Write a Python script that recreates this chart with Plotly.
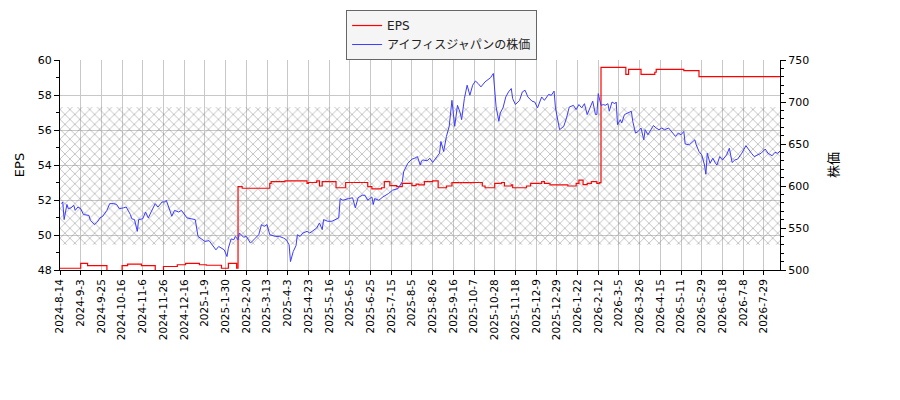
import plotly.graph_objects as go

# x axis = trading-day index, labelled every 15 days
tick_labels = [
    "2024-8-14", "2024-9-3", "2024-9-25", "2024-10-16", "2024-11-6", "2024-11-26",
    "2024-12-16", "2025-1-9", "2025-1-30", "2025-2-20", "2025-3-13", "2025-4-3",
    "2025-4-23", "2025-5-16", "2025-6-5", "2025-6-25", "2025-7-15", "2025-8-5",
    "2025-8-26", "2025-9-16", "2025-10-7", "2025-10-28", "2025-11-18", "2025-12-9",
    "2025-12-29", "2026-1-22", "2026-2-12", "2026-3-5", "2026-3-26", "2026-4-15",
    "2026-5-11", "2026-5-29", "2026-6-18", "2026-7-8", "2026-7-29",
]

# EPS, step changes (day index -> value)
eps_days = [0, 15, 20, 34, 45, 49, 59, 69, 75, 85, 91, 101, 106, 117, 122, 128,
            129, 132, 152, 153, 163, 179, 180, 186, 188, 190, 200, 207, 223, 226,
            233, 235, 239, 244, 248, 255, 258, 260, 264, 270, 274, 280, 284, 300,
            306, 308, 315, 320, 322, 327, 328, 338, 341, 349, 351, 355, 368, 374,
            376, 379, 382, 385, 389, 391, 392, 405, 410, 412, 420, 421, 426, 431,
            432, 452, 463, 522]
eps_values = [48.10, 48.38, 48.25, 47.80, 48.25, 48.34, 48.25, 47.80, 48.20, 48.30,
              48.38, 48.30, 48.27, 48.10, 48.38, 48.10, 52.76, 52.67, 52.95, 53.05,
              53.09, 52.95, 53.00, 53.09, 52.80, 53.05, 52.70, 53.00, 52.76, 52.63,
              52.70, 53.05, 52.82, 52.76, 52.95, 52.82, 52.91, 52.86, 53.05, 53.09,
              52.70, 52.80, 52.99, 53.00, 52.80, 52.70, 52.95, 53.00, 52.80, 52.86,
              52.70, 52.80, 52.95, 53.05, 52.95, 52.86, 52.80, 52.95, 53.14, 52.88,
              52.95, 53.05, 52.95, 52.99, 59.58, 59.58, 59.18, 59.47, 59.47, 59.18,
              59.18, 59.30, 59.47, 59.39, 59.05, 59.05]

# share price (day index -> yen)
price_days = [
    1, 2, 3, 5, 6, 8, 10, 11, 13, 15, 17, 21, 22, 25, 27, 29, 31, 34, 36, 39,
    41, 43, 46, 48, 51, 52, 54, 56, 57, 60, 62, 64, 66, 69, 71, 74, 76, 77, 80, 81,
    83, 86, 88, 90, 92, 95, 98, 100, 103, 105, 108, 110, 113, 115, 117, 119, 121, 122, 124, 126,
    127, 129, 130, 133, 135, 138, 141, 144, 146, 148, 150, 152, 156, 159, 162, 164, 166, 167, 169, 171,
    172, 174, 176, 179, 181, 184, 186, 188, 190, 191, 194, 197, 199, 202, 203, 205, 209, 212, 214, 216,
    219, 221, 223, 226, 227, 228, 231, 234, 238, 241, 245, 248, 249, 252, 255, 257, 259, 261, 262, 263,
    266, 268, 270, 273, 275, 276, 278, 280, 282, 284, 285, 286, 288, 290, 291, 293, 295, 296, 297, 299,
    301, 303, 305, 308, 310, 312, 314, 315, 316, 318, 319, 321, 323, 325, 327, 328, 330, 333, 335, 337,
    339, 342, 344, 346, 349, 351, 354, 356, 358, 359, 361, 362, 365, 367, 369, 372, 374, 376, 378, 380,
    382, 384, 386, 388, 389, 390, 392, 394, 395, 397, 398, 400, 402, 403, 404, 406, 407, 409, 412, 414,
    415, 417, 419, 421, 423, 424, 426, 428, 430, 432, 434, 436, 438, 441, 443, 446, 448, 450, 452, 453,
    456, 458, 460, 461, 463, 465, 467, 468, 469, 471, 473, 475, 476, 478, 480, 483, 485, 487, 489, 491,
    494, 497, 499, 501, 503, 506, 508, 511, 513, 516, 518, 520, 522,
]
price_values = [
    579, 581, 560, 578, 573, 574, 577, 571, 575, 573, 566, 565, 559, 554, 557, 562, 564, 571, 579, 579,
    578, 573, 574, 575, 566, 561, 560, 546, 560, 561, 569, 562, 569, 579, 575, 581, 581, 583, 569, 564,
    571, 569, 571, 566, 562, 561, 560, 540, 536, 534, 535, 531, 524, 528, 526, 524, 516, 526, 537, 536,
    540, 536, 544, 539, 540, 532, 537, 542, 554, 552, 554, 542, 540, 540, 538, 536, 530, 510, 522, 529,
    542, 540, 544, 546, 544, 548, 550, 556, 548, 560, 558, 558, 560, 562, 585, 583, 585, 586, 574, 586,
    589, 589, 583, 587, 578, 585, 583, 587, 591, 595, 597, 605, 617, 627, 632, 633, 635, 625, 630, 631,
    630, 633, 628, 635, 639, 653, 641, 659, 671, 702, 685, 671, 696, 687, 679, 704, 720, 712, 708, 720,
    725, 722, 718, 724, 726, 729, 734, 712, 694, 677, 687, 693, 706, 712, 716, 704, 697, 702, 712, 714,
    706, 701, 700, 693, 706, 702, 709, 708, 713, 693, 673, 667, 671, 681, 694, 696, 691, 697, 693, 698,
    685, 694, 701, 685, 685, 710, 696, 697, 696, 698, 689, 700, 698, 700, 673, 679, 675, 685, 687, 689,
    677, 663, 665, 669, 655, 667, 661, 667, 672, 669, 667, 669, 667, 669, 665, 659, 663, 661, 665, 650,
    649, 652, 655, 649, 641, 637, 625, 614, 639, 627, 633, 627, 625, 635, 631, 637, 645, 628, 631, 632,
    639, 648, 643, 639, 635, 638, 639, 644, 639, 636, 640, 639, 642,
]

# hatched price band
band_days = [0, 522]
band_low = 530
band_high = 694

fig = go.Figure()

fig.add_trace(go.Scatter(
    x=[band_days[0], band_days[1], band_days[1], band_days[0], band_days[0]],
    y=[band_low, band_low, band_high, band_high, band_low],
    yaxis="y2", mode="lines", line=dict(width=0), fill="toself",
    fillcolor="rgba(0,0,0,0)",
    fillpattern=dict(shape="x", fgcolor="#6e6e6e", bgcolor="rgba(0,0,0,0)",
                     size=7, solidity=0.22),
    showlegend=False, hoverinfo="skip",
))

fig.add_trace(go.Scatter(
    x=price_days, y=price_values, yaxis="y2", mode="lines",
    name="アイフィスジャパンの株価", line=dict(color="#3c3cff", width=1),
    legendrank=2,
))

fig.add_trace(go.Scatter(
    x=eps_days, y=eps_values, mode="lines", name="EPS",
    line=dict(color="#ff0000", width=1.2, shape="hv"),
    legendrank=1,
))

font_family = "DejaVu Sans, Noto Sans CJK JP, sans-serif"

fig.update_layout(
    width=900, height=400,
    margin=dict(l=60, r=120, t=60, b=130, autoexpand=False),
    paper_bgcolor="white", plot_bgcolor="white",
    font=dict(family=font_family, size=11, color="#000"),
    legend=dict(x=0.53, y=1.238, xanchor="center", yanchor="top",
                bgcolor="#f5f5f5", bordercolor="#666", borderwidth=1,
                font=dict(size=12, color="#222"), tracegroupgap=0, itemwidth=30),
    xaxis=dict(
        range=[0, 521.7], automargin=False,
        tickvals=[15 * i for i in range(len(tick_labels))],
        ticktext=tick_labels, tickangle=-90,
        ticks="outside", ticklen=4, tickcolor="#000",
        showgrid=True, gridcolor="#c8c8c8", gridwidth=1,
        showline=True, linecolor="#000", linewidth=1,
        zeroline=False, tickfont=dict(size=10.5),
    ),
    yaxis=dict(
        range=[48, 60], dtick=2, ticks="outside", ticklen=5, tickcolor="#000",
        automargin=False,
        minor=dict(dtick=1, ticks="outside", ticklen=3, tickcolor="#000", showgrid=False),
        showgrid=True, gridcolor="#c8c8c8", gridwidth=1,
        showline=True, linecolor="#000", linewidth=1, zeroline=False,
        title=dict(text="EPS", standoff=10), tickfont=dict(size=11),
    ),
    yaxis2=dict(
        range=[500, 750], dtick=50, overlaying="y", side="right",
        automargin=False,
        ticks="outside", ticklen=5, tickcolor="#000",
        minor=dict(dtick=10, ticks="outside", ticklen=3, tickcolor="#000", showgrid=False),
        showgrid=False, showline=True, linecolor="#000", linewidth=1, zeroline=False,
        title=dict(text="株価", standoff=20), tickfont=dict(size=11),
    ),
)

fig.write_html("out.html", config={"displayModeBar": False},
               post_script="document.body.style.margin='0';")
